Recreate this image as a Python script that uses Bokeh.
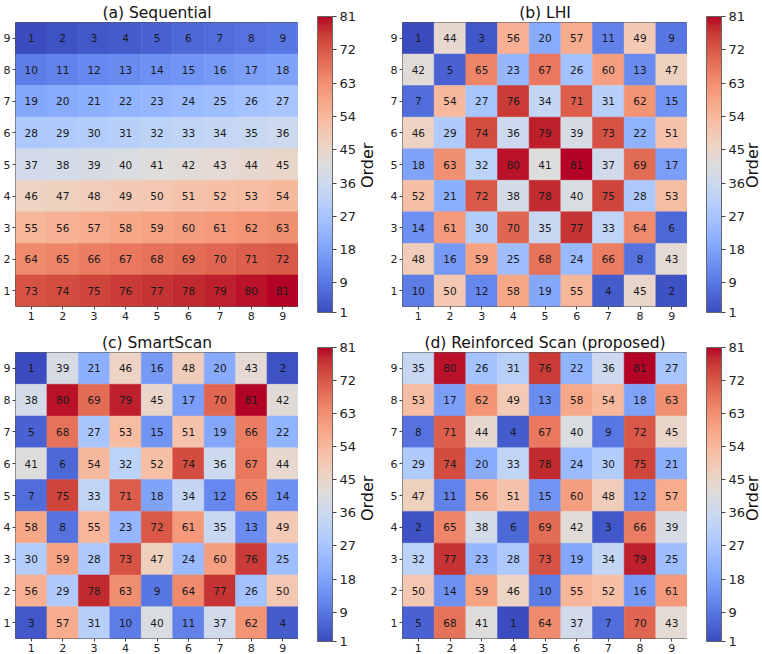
import math
import numpy as np
from bokeh.plotting import figure
from bokeh.models import (ColumnDataSource, LinearColorMapper, ColorBar, FixedTicker, Range1d)
from bokeh.layouts import column, row
from bokeh.transform import transform
from bokeh.core.properties import value
from bokeh.embed import file_html
from bokeh.resources import INLINE

cols = [1, 2, 3, 4, 5, 6, 7, 8, 9]
rows_top_down = [9, 8, 7, 6, 5, 4, 3, 2, 1]
cbar_ticks = [1, 9, 18, 27, 36, 45, 54, 63, 72, 81]
cbar_label = "Order"

sequential = [
    [1, 2, 3, 4, 5, 6, 7, 8, 9],
    [10, 11, 12, 13, 14, 15, 16, 17, 18],
    [19, 20, 21, 22, 23, 24, 25, 26, 27],
    [28, 29, 30, 31, 32, 33, 34, 35, 36],
    [37, 38, 39, 40, 41, 42, 43, 44, 45],
    [46, 47, 48, 49, 50, 51, 52, 53, 54],
    [55, 56, 57, 58, 59, 60, 61, 62, 63],
    [64, 65, 66, 67, 68, 69, 70, 71, 72],
    [73, 74, 75, 76, 77, 78, 79, 80, 81],
]
lhi = [
    [1, 44, 3, 56, 20, 57, 11, 49, 9],
    [42, 5, 65, 23, 67, 26, 60, 13, 47],
    [7, 54, 27, 76, 34, 71, 31, 62, 15],
    [46, 29, 74, 36, 79, 39, 73, 22, 51],
    [18, 63, 32, 80, 41, 81, 37, 69, 17],
    [52, 21, 72, 38, 78, 40, 75, 28, 53],
    [14, 61, 30, 70, 35, 77, 33, 64, 6],
    [48, 16, 59, 25, 68, 24, 66, 8, 43],
    [10, 50, 12, 58, 19, 55, 4, 45, 2],
]
smartscan = [
    [1, 39, 21, 46, 16, 48, 20, 43, 2],
    [38, 80, 69, 79, 45, 17, 70, 81, 42],
    [5, 68, 27, 53, 15, 51, 19, 66, 22],
    [41, 6, 54, 32, 52, 74, 36, 67, 44],
    [7, 75, 33, 71, 18, 34, 12, 65, 14],
    [58, 8, 55, 23, 72, 61, 35, 13, 49],
    [30, 59, 28, 73, 47, 24, 60, 76, 25],
    [56, 29, 78, 63, 9, 64, 77, 26, 50],
    [3, 57, 31, 10, 40, 11, 37, 62, 4],
]
reinforced = [
    [35, 80, 26, 31, 76, 22, 36, 81, 27],
    [53, 17, 62, 49, 13, 58, 54, 18, 63],
    [8, 71, 44, 4, 67, 40, 9, 72, 45],
    [29, 74, 20, 33, 78, 24, 30, 75, 21],
    [47, 11, 56, 51, 15, 60, 48, 12, 57],
    [2, 65, 38, 6, 69, 42, 3, 66, 39],
    [32, 77, 23, 28, 73, 19, 34, 79, 25],
    [50, 14, 59, 46, 10, 55, 52, 16, 61],
    [5, 68, 41, 1, 64, 37, 7, 70, 43],
]
titles = ["(a) Sequential", "(b) LHI", "(c) SmartScan", "(d) Reinforced Scan (proposed)"]

# coolwarm colormap (Moreland control points), interpolated to 256 colours
cw = [
    (59, 76, 192), (68, 90, 204), (77, 104, 215), (87, 117, 225), (98, 130, 234),
    (108, 142, 241), (119, 154, 247), (130, 165, 251), (141, 176, 254), (152, 185, 255),
    (163, 194, 255), (174, 201, 253), (184, 208, 249), (194, 213, 244), (204, 217, 238),
    (213, 219, 230), (221, 221, 221), (229, 216, 209), (236, 211, 197), (241, 204, 184),
    (245, 196, 172), (247, 187, 160), (247, 177, 148), (247, 166, 135), (244, 154, 123),
    (241, 141, 111), (236, 127, 99), (229, 112, 88), (222, 96, 77), (213, 80, 66),
    (203, 62, 56), (192, 40, 47), (180, 4, 38),
]
cw = np.array(cw, dtype=float)
pos = np.linspace(0, 1, len(cw))
palette = []
for v in np.linspace(0, 1, 256):
    r = np.interp(v, pos, cw[:, 0]); g = np.interp(v, pos, cw[:, 1]); b = np.interp(v, pos, cw[:, 2])
    palette.append("#%02x%02x%02x" % (int(round(r)), int(round(g)), int(round(b))))

FONT = "DejaVu Sans"
FRAME_W = 285
H = 327


def make_heat(grid, title, left_col, top_row, mapper):
    xs, ys, vals = [], [], []
    for ri, yv in enumerate(rows_top_down):
        for ci, xv in enumerate(cols):
            xs.append(xv); ys.append(yv); vals.append(grid[ri][ci])
    src = ColumnDataSource(dict(x=xs, y=ys, v=vals, s=[str(v) for v in vals]))

    left = 13 if left_col else 21
    p = figure(width=left + FRAME_W, height=H,
               x_range=Range1d(0.5, 9.5), y_range=Range1d(0.5, 9.5),
               output_backend="svg", toolbar_location=None,
               min_border_left=left, min_border_right=0,
               min_border_top=20 if top_row else 25,
               min_border_bottom=21 if top_row else 15)
    p.rect(x="x", y="y", width=1, height=1, source=src,
           fill_color=transform("v", mapper), line_color=transform("v", mapper), line_width=0.5)
    p.text(x="x", y="y", text="s", source=src, text_align="center", text_baseline="middle",
           text_font=value(FONT), text_font_size="10.5px", text_color="#1a1a1a")

    p.title.text = title
    p.title.align = "center"
    p.title.text_font = FONT
    p.title.text_font_size = "15.5px"
    p.title.text_font_style = "normal"
    p.title.text_color = "#111111"
    p.title.standoff = 2

    for ax in (p.xaxis[0], p.yaxis[0]):
        ax.ticker = FixedTicker(ticks=cols)
        ax.major_label_text_font = FONT
        ax.major_label_text_font_size = "11px"
        ax.major_label_text_color = "#222222"
        ax.major_tick_out = 3
        ax.major_tick_in = 0
        ax.minor_tick_line_color = None
        ax.axis_line_color = None
        ax.major_tick_line_color = "#444444"
        ax.major_label_standoff = 2
    p.xgrid.visible = False
    p.ygrid.visible = False
    p.outline_line_color = "#555555"
    p.outline_line_width = 1
    return p


def make_side(left_col, top_row, mapper):
    # frame of this narrow plot is aligned by the row with the heat-map frame
    W = 83 if left_col else 75
    s = figure(width=W, height=H, x_range=Range1d(0, W), y_range=Range1d(0, 1),
               output_backend="svg", toolbar_location=None,
               x_axis_type=None, y_axis_type=None,
               min_border_left=0, min_border_right=0, min_border_top=0, min_border_bottom=0)
    s.outline_line_color = None
    for g in s.grid:
        g.visible = False

    cb = ColorBar(color_mapper=mapper, ticker=FixedTicker(ticks=cbar_ticks),
                  width=15, height=296 if top_row else 294,
                  location=(19, -6 if top_row else -3), margin=0, padding=0,
                  major_label_text_font=FONT, major_label_text_font_size="13px",
                  major_label_text_color="#222222",
                  major_tick_out=4, major_tick_in=0, major_tick_line_color="#444444",
                  label_standoff=3, bar_line_color="#666666", bar_line_width=1,
                  minor_tick_line_color=None,
                  background_fill_color=None, border_line_color=None)
    s.add_layout(cb, "center")

    lx = 69 if left_col else 65
    ly = 0.497 if top_row else 0.49
    s.text(x=[lx], y=[ly], text=[cbar_label], angle=math.pi / 2,
           text_align="center", text_baseline="middle",
           text_font=value(FONT), text_font_size="16px", text_color="#111111")
    return s


def make_panel(grid, title, left_col, top_row):
    mapper = LinearColorMapper(palette=palette, low=1, high=81)
    return [make_heat(grid, title, left_col, top_row, mapper),
            make_side(left_col, top_row, mapper)]


top = make_panel(sequential, titles[0], True, True) + make_panel(lhi, titles[1], False, True)
bottom = make_panel(smartscan, titles[2], True, False) + make_panel(reinforced, titles[3], False, False)

layout = column(row(*top), row(*bottom))
open("out.html", "w").write(file_html(layout, INLINE))
